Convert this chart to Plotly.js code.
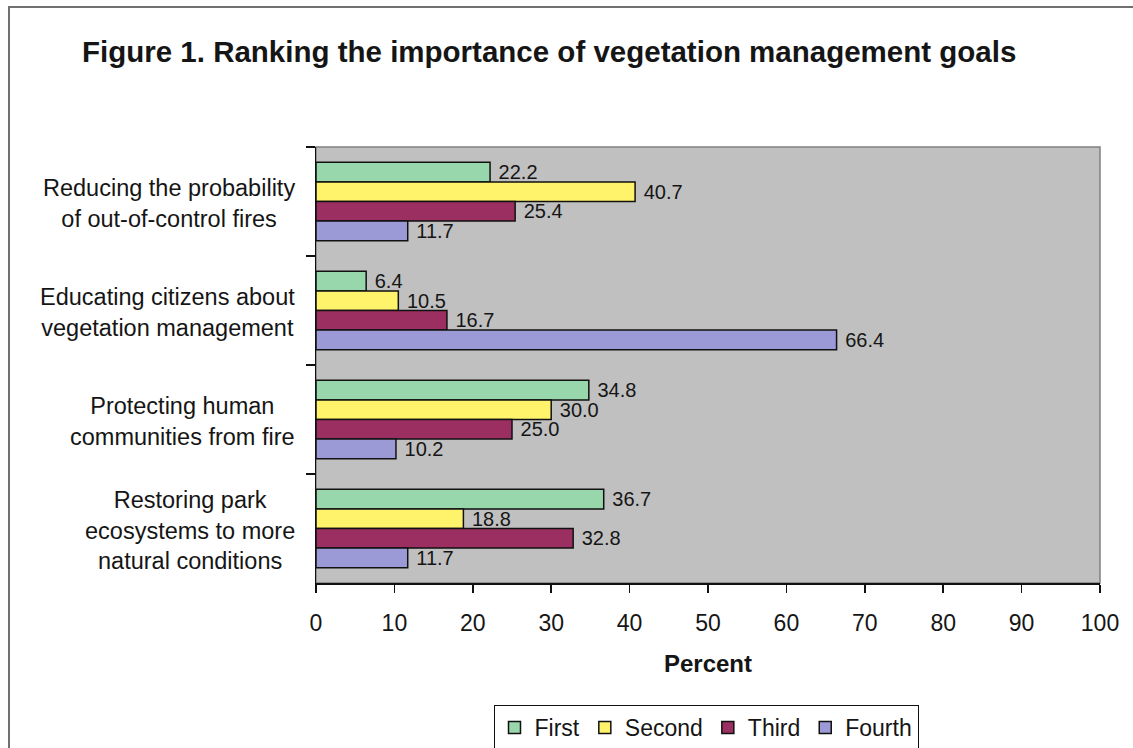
<!DOCTYPE html>
<html>
<head>
<meta charset="utf-8">
<script src="https://cdn.plot.ly/plotly-3.0.1.min.js"></script>
<style>
  html, body { margin: 0; padding: 0; background: #ffffff; }
  #wrap { position: relative; width: 1133px; height: 748px; overflow: hidden; }
  #frame { position: absolute; left: 8px; top: 6px; width: 1200px; height: 800px;
           border-left: 2px solid #707070; border-top: 2px solid #707070; pointer-events: none; }
  #chart { position: absolute; left: 0; top: 0; width: 1133px; height: 748px; }
</style>
</head>
<body>
<div id="wrap">
  <div id="chart"></div>
  <div id="frame"></div>
</div>
<script>
// Goals, top to bottom
const goals = [
  "Reducing the probability<br>of out-of-control fires",
  "Educating citizens about<br>vegetation management",
  "Protecting human<br>communities from fire",
  "Restoring park<br>ecosystems to more<br>natural conditions"
];

// Percent of respondents ranking each goal first..fourth
const rankNames = ["First", "Second", "Third", "Fourth"];
const firstPct  = [22.2, 6.4, 34.8, 36.7];
const secondPct = [40.7, 10.5, 30.0, 18.8];
const thirdPct  = [25.4, 16.7, 25.0, 32.8];
const fourthPct = [11.7, 66.4, 10.2, 11.7];

const xTicks = [0, 10, 20, 30, 40, 50, 60, 70, 80, 90, 100];

const seriesValues = [firstPct, secondPct, thirdPct, fourthPct];
const seriesColors = ["#98d6ab", "#fff36b", "#9c2f62", "#9c9ad6"];

const FONT = "Liberation Sans, Arial, sans-serif";
const INK = "#151515";

const traces = rankNames.map((name, i) => ({
  type: "bar",
  orientation: "h",
  name: name,
  y: goals,
  x: seriesValues[i],
  marker: { color: seriesColors[i], line: { color: "#111111", width: 1.5 } },
  texttemplate: "\u00a0%{x:.1f}",
  textposition: "outside",
  constraintext: "none",
  cliponaxis: false,
  textfont: { family: FONT, size: 20, color: INK },
  hoverinfo: "x+name"
}));

// Centered multi-line category labels on the left of the plot
const labelNotes = goals.map(g => ({
  xref: "paper", yref: "y",
  x: 0, y: g,
  xanchor: "right", yanchor: "middle",
  xshift: -19, yshift: -2,
  align: "center",
  showarrow: false,
  text: g,
  font: { family: FONT, size: 23.5, color: INK }
}));

const layout = {
  width: 1133, height: 748,
  paper_bgcolor: "rgba(0,0,0,0)",
  plot_bgcolor: "#c0c0c0",
  margin: { l: 316, r: 33, t: 147, b: 165, pad: 0, autoexpand: false },
  barmode: "group",
  bargap: 0.28,
  bargroupgap: 0,
  showlegend: true,
  title: {
    text: "<b>Figure 1. Ranking the importance of vegetation management goals</b>",
    font: { family: FONT, size: 29.5, color: INK },
    xref: "container", yref: "container",
    x: 82 / 1133, xanchor: "left",
    y: 1 - 52 / 748, yanchor: "middle"
  },
  xaxis: {
    range: [0, 100],
    tickvals: xTicks,
    ticktext: xTicks.map(String),
    ticks: "outside", ticklen: 8, tickwidth: 1.5, tickcolor: "#111111",
    showline: true, linecolor: "#111111", linewidth: 1.5,
    showgrid: false, zeroline: false,
    tickfont: { family: FONT, size: 23, color: INK },
    ticklabelstandoff: 11,
    fixedrange: true,
    title: {
      text: "<b>Percent</b>",
      font: { family: FONT, size: 24, color: INK },
      standoff: 20
    }
  },
  yaxis: {
    type: "category",
    autorange: "reversed",
    showticklabels: false,
    ticks: "outside", tickson: "boundaries", ticklen: 9, tickwidth: 1.5, tickcolor: "#111111",
    showline: true, linecolor: "#111111", linewidth: 1.5,
    showgrid: false, zeroline: false,
    fixedrange: true
  },
  legend: {
    orientation: "h",
    xref: "container", yref: "container",
    x: 706 / 1133, xanchor: "center",
    y: 1 - 705 / 748, yanchor: "top",
    bgcolor: "#ffffff",
    bordercolor: "#111111", borderwidth: 1,
    font: { family: FONT, size: 23, color: INK },
    itemwidth: 30,
    traceorder: "normal"
  },
  shapes: [{
    type: "rect", xref: "paper", yref: "paper",
    x0: 0, x1: 1, y0: 0, y1: 1,
    line: { color: "#808080", width: 1.5 },
    layer: "below"
  }],
  annotations: labelNotes
};

Plotly.newPlot("chart", traces, layout, { displayModeBar: false, staticPlot: true });
</script>
</body>
</html>
